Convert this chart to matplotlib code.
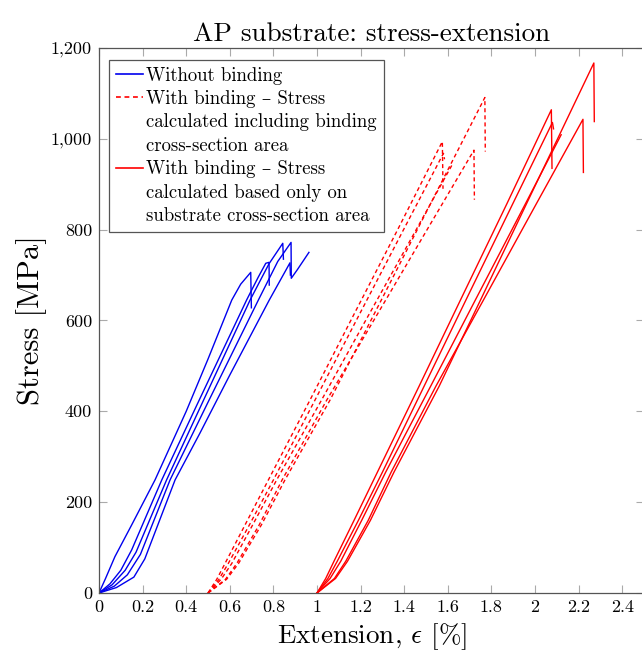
import matplotlib
matplotlib.use("Agg")
import matplotlib.pyplot as plt
from matplotlib.lines import Line2D
from matplotlib.ticker import FuncFormatter, MultipleLocator

plt.rcParams['font.family'] = ['cmr10', 'DejaVu Serif']
plt.rcParams['mathtext.fontset'] = 'cm'
plt.rcParams['axes.formatter.use_mathtext'] = True

# Without binding (extension %, stress MPa)
blue_x = [
    [0, 0.03, 0.073, 0.15, 0.257, 0.40, 0.50, 0.609, 0.65, 0.696, 0.699],
    [0, 0.05, 0.10, 0.15, 0.288, 0.45, 0.677, 0.73, 0.765, 0.78, 0.781],
    [0, 0.06, 0.12, 0.17, 0.31, 0.48, 0.693, 0.78, 0.843, 0.846],
    [0, 0.07, 0.13, 0.19, 0.326, 0.50, 0.731, 0.82, 0.881, 0.882, 0.91, 0.963],
    [0, 0.08, 0.16, 0.21, 0.349, 0.463, 0.60, 0.781, 0.876, 0.878],
]
blue_y = [
    [0, 32, 80, 150, 249, 400, 515, 645, 680, 706, 628],
    [0, 20, 50, 95, 249, 415, 645, 695, 726, 728, 678],
    [0, 18, 50, 90, 249, 425, 645, 725, 770, 735],
    [0, 15, 40, 85, 249, 420, 645, 730, 772, 693, 712, 750],
    [0, 12, 35, 75, 249, 352, 480, 645, 727, 700],
]

# With binding, stress incl. binding cross-section (plotted from 0.5)
dash_x = [
    [0.5, 0.54, 0.578, 0.67, 0.777, 0.968, 1.155, 1.37, 1.575, 1.578],
    [0.5, 0.55, 0.593, 0.69, 0.80, 0.991, 1.18, 1.397, 1.58, 1.585],
    [0.5, 0.56, 0.609, 0.705, 0.815, 1.021, 1.223, 1.455, 1.62],
    [0.5, 0.58, 0.632, 0.735, 0.84, 1.045, 1.26, 1.505, 1.72, 1.722],
    [0.5, 0.585, 0.64, 0.745, 0.853, 1.06, 1.247, 1.46, 1.77, 1.772],
]
dash_y = [
    [0, 30, 65, 150, 249, 425, 600, 800, 994, 890],
    [0, 30, 65, 150, 249, 425, 600, 800, 968, 955],
    [0, 30, 65, 150, 249, 425, 600, 800, 943],
    [0, 30, 65, 150, 249, 425, 600, 800, 975, 866],
    [0, 30, 65, 150, 249, 425, 600, 800, 1091, 972],
]

# With binding, stress on substrate cross-section only (plotted from 1.0)
solid_x = [
    [1.0, 1.04, 1.078, 1.17, 1.277, 1.468, 1.655, 1.87, 2.075, 2.078],
    [1.0, 1.05, 1.093, 1.19, 1.30, 1.491, 1.68, 1.897, 2.08, 2.085],
    [1.0, 1.06, 1.109, 1.205, 1.315, 1.521, 1.723, 1.955, 2.12],
    [1.0, 1.08, 1.132, 1.235, 1.34, 1.545, 1.76, 2.005, 2.22, 2.222],
    [1.0, 1.085, 1.14, 1.245, 1.353, 1.56, 1.747, 1.96, 2.27, 2.272],
]
solid_y = [
    [0, 32, 70, 160, 266, 455, 642, 856, 1064, 935],
    [0, 32, 70, 160, 266, 455, 642, 856, 1036, 1022],
    [0, 32, 70, 160, 266, 455, 642, 856, 1009],
    [0, 32, 70, 160, 266, 455, 642, 856, 1043, 926],
    [0, 32, 70, 160, 266, 455, 642, 856, 1167, 1038],
]

legend_labels = ["Without binding",
                 "With binding \u2013 Stress",
                 "calculated including binding",
                 "cross-section area",
                 "With binding \u2013 Stress",
                 "calculated based only on",
                 "substrate cross-section area"]

fig = plt.figure(figsize=(6.42, 6.57), dpi=100)
ax = fig.add_axes([99/642, 64/657, 545/642, 545/657])

for x, y in zip(blue_x, blue_y):
    ax.plot(x, y, color='#0000ee', lw=1.0)
for x, y in zip(dash_x, dash_y):
    ax.plot(x, y, color='red', lw=1.0, linestyle=(0, (2.9, 2.2)))
for x, y in zip(solid_x, solid_y):
    ax.plot(x, y, color='red', lw=1.0)

ax.set_xlim(0, 2.5)
ax.set_ylim(0, 1200)
ax.xaxis.set_major_locator(MultipleLocator(0.2))
ax.yaxis.set_major_locator(MultipleLocator(200))
ax.xaxis.set_major_formatter(FuncFormatter(lambda v, p: '%g' % round(v, 2)))
ax.yaxis.set_major_formatter(FuncFormatter(lambda v, p: '{:,.0f}'.format(v)))
ax.tick_params(direction='in', length=6, width=0.8, color='#aaaaaa',
               labelsize=13, top=True, right=True, pad=5)
for s in ax.spines.values():
    s.set_color('#555555')
    s.set_linewidth(0.9)

ax.set_title("AP substrate: stress-extension", fontsize=19.5, pad=5)
ax.set_xlabel(r"Extension, $\epsilon$ [%]", fontsize=19.5, labelpad=4)
ax.set_ylabel("Stress [MPa]", fontsize=22, labelpad=3)

blank = Line2D([], [], linestyle='none')
handles = [Line2D([], [], color='#0000ee', lw=1.2),
           Line2D([], [], color='red', lw=1.2, linestyle=(0, (2.9, 2.2))),
           blank, blank,
           Line2D([], [], color='red', lw=1.2),
           blank, blank]
leg = ax.legend(handles, legend_labels, loc='upper left',
                bbox_to_anchor=(109/642, 1 - 60/657), bbox_transform=fig.transFigure,
                borderaxespad=0, fontsize=13.5, handlelength=1.45, handletextpad=0.2,
                labelspacing=0.29, borderpad=0.35, fancybox=False, framealpha=1)
leg.get_frame().set_edgecolor('#555555')
leg.get_frame().set_linewidth(0.9)

fig.savefig("out.png", dpi=100)
